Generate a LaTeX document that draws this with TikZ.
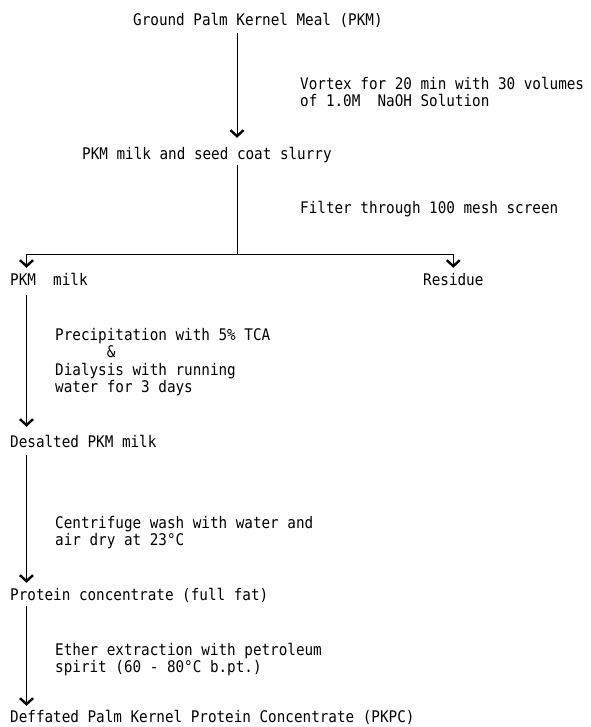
\documentclass[tikz,border=0pt]{standalone}
\usepackage{fontspec}
\setmonofont{DejaVu Sans Mono}[FakeStretch=0.893]
\usetikzlibrary{arrows.meta, positioning}

\begin{document}
\begin{tikzpicture}[
    x=1pt, y=-1pt,
    stage/.style={anchor=base west, inner sep=0pt, text height=12pt, text depth=3.5pt, font=\fontsize{16}{17.5}\selectfont\ttfamily},
    note/.style={anchor=north west, inner sep=0pt, align=left, font=\fontsize{16}{17.5}\selectfont\ttfamily},
    link/.style={line width=1pt},
    flow/.style={link, -{Straight Barb[length=6pt, width=13pt, line width=2.4pt]}, shorten <=3pt, shorten >=6pt},
]
\useasboundingbox (0,0) rectangle (590,727);

% Stages
\node[stage] (ground) at (133,26) {Ground Palm Kernel Meal (PKM)};
\node[stage] (slurry) at (82,160) {PKM milk and seed coat slurry};
\node[stage] (milk) at (10,285) {PKM~~milk};
\node[stage] (residue) at (423,285) {Residue};
\node[stage] (desalted) at (10,447) {Desalted PKM milk};
\node[stage] (protein) at (10,600) {Protein concentrate (full fat)};
\node[stage] (deffated) at (10,722) {Deffated Palm Kernel Protein Concentrate (PKPC)};

% Notes
\node[note] (vortex) at (300,77) {Vortex for 20 min with 30 volumes\\of 1.0M~~NaOH Solution};
\node[note] (filter) at (300,201) {Filter through 100 mesh screen};
\node[note] (precip) at (55,328) {Precipitation with 5\% TCA\\~~~~~~\&\\Dialysis with running\\water for 3 days};
\node[note] (centri) at (55,516) {Centrifuge wash with water and\\air dry at 23°C};
\node[note] (ether) at (55,643) {Ether extraction with petroleum\\spirit (60 - 80°C b.pt.)};

% Arrows
\coordinate (split) at (237,254);
\coordinate (lspine) at (26.5,0);
\draw[flow, shorten >=10pt] (ground.south -| split) -- (slurry.north -| split);
\draw[link, shorten <=1.5pt] (slurry.south -| split) -- (split);
\draw[flow, shorten <=0pt, shorten >=5pt] (split) -| (milk.north -| lspine);
\draw[flow, shorten <=0pt, shorten >=5pt] (split) -| (residue.north);
\draw[flow, shorten <=6.5pt, shorten >=8pt] (milk.south -| lspine) -- (desalted.north -| lspine);
\draw[flow, shorten <=4.5pt, shorten >=5pt] (desalted.south -| lspine) -- (protein.north -| lspine);
\draw[flow, shorten <=2.5pt, shorten >=4pt] (protein.south -| lspine) -- (deffated.north -| lspine);

\end{tikzpicture}
\end{document}
